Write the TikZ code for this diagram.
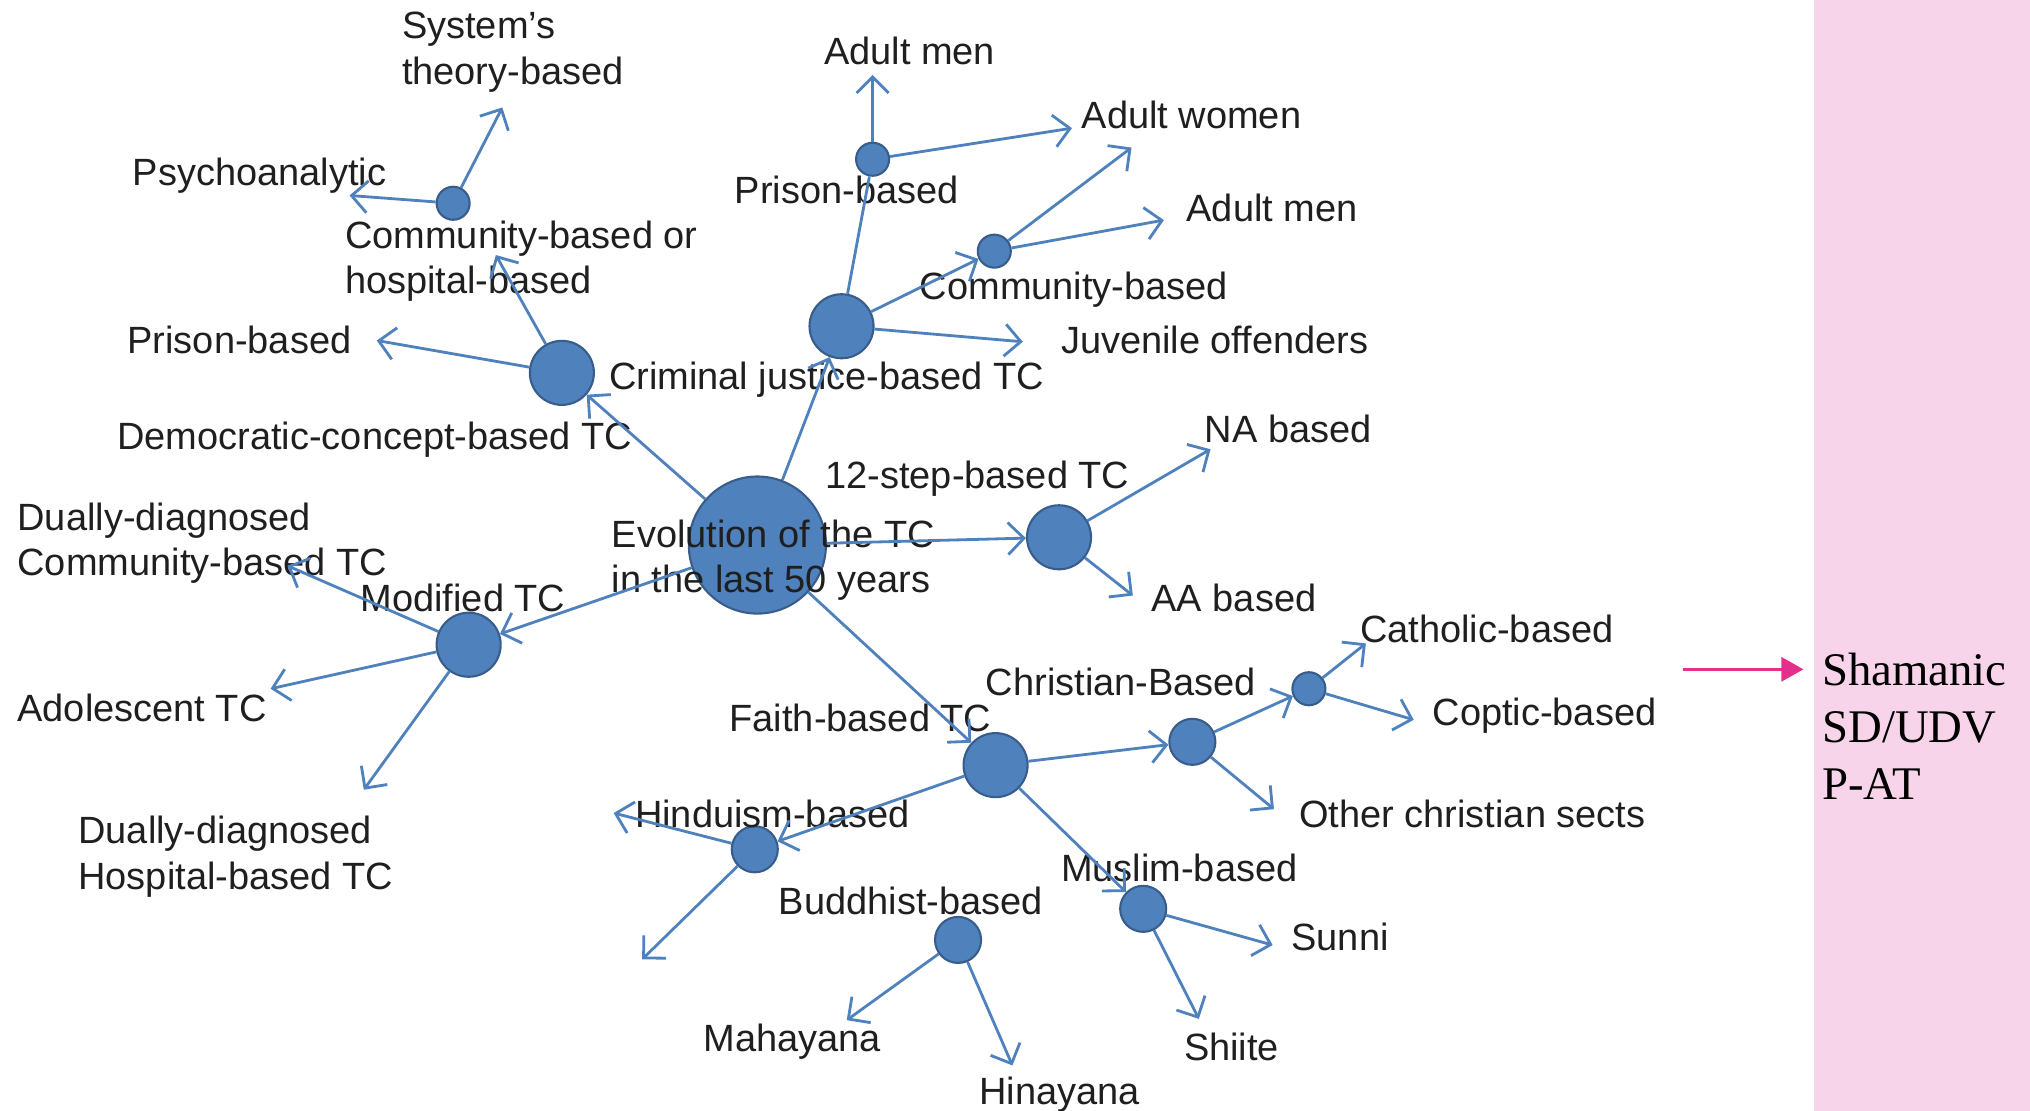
\documentclass[tikz,border=0pt]{standalone}
\usepackage{fontspec}
\setmainfont{Liberation Sans}
\newfontfamily\panelfont{Liberation Serif}
\usetikzlibrary{arrows.meta}
\definecolor{dotblue}{RGB}{79,129,189}
\definecolor{dotedge}{RGB}{56,93,138}
\definecolor{panelpink}{RGB}{247,212,234}
\definecolor{pinkarrow}{RGB}{228,48,140}
\tikzset{>={Straight Barb[length=1.6mm,width=3.2mm]},
  dot/.style={circle, draw=dotedge, fill=dotblue, inner sep=0pt, line width=0.6pt},
  hub/.style={dot, minimum size=1.37cm},
  bigdot/.style={dot, minimum size=0.64cm},
  middot/.style={dot, minimum size=0.46cm},
  tinydot/.style={dot, minimum size=0.33cm},
  lab/.style={inner sep=0pt, anchor=base west, text=black!88,
    font=\fontsize{10.8}{12.9}\selectfont},
  labtwo/.style={lab, anchor=north west, align=left},
  link/.style={->, draw=dotblue, line width=0.8pt}
}

\begin{document}
\begin{tikzpicture}[x=0.012946cm, y=-0.012946cm]
\useasboundingbox (0,0) rectangle (1568,858);
\fill[panelpink] (1401,0) rectangle (1568,858);

\node[hub] (evo) at (585,421) {};
\node[bigdot] (crim) at (650,252) {};
\node[bigdot] (demo) at (434,288) {};
\node[bigdot] (step) at (818,415) {};
\node[bigdot] (modi) at (362,498) {};
\node[bigdot] (faith) at (769,591) {};
\node[middot] (chri) at (921,573) {};
\node[middot] (hindu) at (583,656) {};
\node[middot] (musl) at (883,702) {};
\node[middot] (budd) at (740,726) {};
\node[tinydot] (prisn) at (674,123) {};
\node[tinydot] (commu) at (768,194) {};
\node[tinydot] (cohos) at (350,157) {};
\node[tinydot] (catho) at (1011,532) {};

\coordinate (e-adm1) at (674,58);
\coordinate (e-adw1) at (828,99);
\coordinate (e-adw2) at (874,114);
\coordinate (e-adm2) at (899,170);
\coordinate (e-juv) at (790,264);
\coordinate (e-pri) at (291,263);
\coordinate (e-coh) at (383,197);
\coordinate (e-psy) at (270,151);
\coordinate (e-sys) at (388,83);
\coordinate (e-na) at (935,347);
\coordinate (e-aa) at (875,460);
\coordinate (e-ddc) at (222,437);
\coordinate (e-ado) at (209,532);
\coordinate (e-ddh) at (281,610);
\coordinate (e-cat) at (1055,497);
\coordinate (e-cop) at (1092,556);
\coordinate (e-oth) at (984,625);
\coordinate (e-hin) at (474,628);
\coordinate (e-hdn) at (496,741);
\coordinate (e-sun) at (983,730);
\coordinate (e-shi) at (926,787);
\coordinate (e-mah) at (654,788);
\coordinate (e-hina) at (782,823);

\node[labtwo] (l-sys) at (310,9) {System's\\theory-based};
\node[lab] (l-psy) at (102,143) {Psychoanalytic};
\node[labtwo] (l-coh) at (266,170) {Community-based or\\hospital-based};
\node[lab] (l-pri) at (98,273) {Prison-based};
\node[lab] (l-crim) at (470,301) {Criminal justice-based TC};
\node[lab] (l-demo) at (90,347) {Democratic-concept-based TC};
\node[lab] (l-adm1) at (636,50) {Adult men};
\node[lab] (l-adw) at (835,99) {Adult women};
\node[lab] (l-prisn) at (567,157) {Prison-based};
\node[lab] (l-adm2) at (916,171) {Adult men};
\node[lab] (l-commu) at (710,231) {Community-based};
\node[lab] (l-juv) at (819,273) {Juvenile offenders};
\node[lab] (l-na) at (930,342) {NA based};
\node[lab] (l-step) at (637,377) {12-step-based TC};
\node[lab] (l-aa) at (889,472) {AA based};
\node[labtwo] (l-evo) at (472,401) {Evolution of the TC\\in the last 50 years};
\node[labtwo] (l-ddc) at (13,388) {Dually-diagnosed\\Community-based TC};
\node[lab] (l-modi) at (278,472) {Modified TC};
\node[lab] (l-ado) at (13,557) {Adolescent TC};
\node[labtwo] (l-ddh) at (60,630) {Dually-diagnosed\\Hospital-based TC};
\node[lab] (l-cat) at (1050,496) {Catholic-based};
\node[lab] (l-chri) at (761,537) {Christian-Based};
\node[lab] (l-cop) at (1106,560) {Coptic-based};
\node[lab] (l-faith) at (563,565) {Faith-based TC};
\node[lab] (l-oth) at (1003,639) {Other christian sects};
\node[lab] (l-hindu) at (490,639) {Hinduism-based};
\node[lab] (l-musl) at (819,681) {Muslim-based};
\node[lab] (l-budd) at (601,706) {Buddhist-based};
\node[lab] (l-sun) at (997,734) {Sunni};
\node[lab] (l-mah) at (543,812) {Mahayana};
\node[lab] (l-shi) at (914,819) {Shiite};
\node[lab] (l-hina) at (756,853) {Hinayana};

\draw[link] (evo)--(crim);
\draw[link] (evo)--(demo);
\draw[link] (evo)--(step);
\draw[link] (evo)--(modi);
\draw[link] (evo)--(faith);
\draw[link, -] (crim)--(prisn);
\draw[link] (crim)--(commu);
\draw[link] (crim)--(e-juv);
\draw[link] (prisn)--(e-adm1);
\draw[link] (prisn)--(e-adw1);
\draw[link] (commu)--(e-adw2);
\draw[link] (commu)--(e-adm2);
\draw[link] (demo)--(e-pri);
\draw[link] (demo)--(e-coh);
\draw[link] (cohos)--(e-psy);
\draw[link] (cohos)--(e-sys);
\draw[link] (step)--(e-na);
\draw[link] (step)--(e-aa);
\draw[link] (modi)--(e-ddc);
\draw[link] (modi)--(e-ado);
\draw[link] (modi)--(e-ddh);
\draw[link] (faith)--(chri);
\draw[link] (faith)--(hindu);
\draw[link] (faith)--(musl);
\draw[link] (chri)--(catho);
\draw[link] (chri)--(e-oth);
\draw[link] (catho)--(e-cat);
\draw[link] (catho)--(e-cop);
\draw[link] (hindu)--(e-hin);
\draw[link] (hindu)--(e-hdn);
\draw[link] (musl)--(e-sun);
\draw[link] (musl)--(e-shi);
\draw[link] (budd)--(e-mah);
\draw[link] (budd)--(e-hina);

\node[inner sep=0pt, anchor=north west, align=left,
  font=\panelfont\fontsize{13.3}{16.2}\selectfont] (shaman) at (1407,504)
  {Shamanic\\SD/UDV\\P-AT};
\coordinate (p-start) at (1300,517);
\coordinate (p-end) at (1393,517);
\draw[-{Triangle[length=2.2mm,width=2.4mm]}, pinkarrow, line width=0.8pt] (p-start)--(p-end);
\end{tikzpicture}
\end{document}
